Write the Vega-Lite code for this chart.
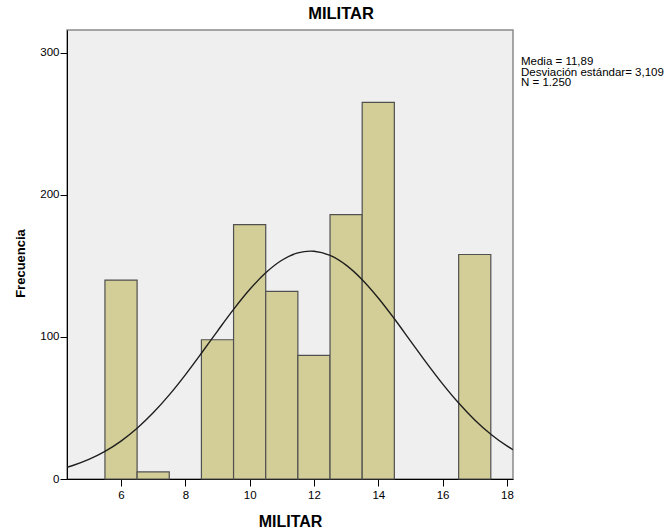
{
  "$schema": "https://vega.github.io/schema/vega-lite/v6.json",
  "width": 446,
  "height": 449,
  "autosize": "none",
  "padding": {"left": 67, "top": 30, "right": 158, "bottom": 52},
  "background": "white",
  "config": {
    "font": "Liberation Sans",
    "view": {"fill": "#efefef", "stroke": "#8a8a8a", "strokeWidth": 1.5},
    "axis": {
      "grid": false,
      "domainColor": "#000000",
      "tickColor": "#000000",
      "tickSize": 7,
      "labelColor": "#000000",
      "labelFont": "Liberation Sans",
      "labelFontSize": 11.5,
      "titleColor": "#000000",
      "titleFont": "Liberation Sans",
      "titleFontWeight": "bold"
    }
  },
  "title": {
    "text": "MILITAR",
    "font": "Liberation Sans",
    "fontSize": 16.5,
    "fontWeight": "bold",
    "color": "#000000",
    "anchor": "middle",
    "dx": 51,
    "offset": 8
  },
  "datasets": {
    "bins": [
      {"bin_start": 5.5, "bin_end": 6.5, "count": 140},
      {"bin_start": 6.5, "bin_end": 7.5, "count": 5},
      {"bin_start": 8.5, "bin_end": 9.5, "count": 98},
      {"bin_start": 9.5, "bin_end": 10.5, "count": 179},
      {"bin_start": 10.5, "bin_end": 11.5, "count": 132},
      {"bin_start": 11.5, "bin_end": 12.5, "count": 87},
      {"bin_start": 12.5, "bin_end": 13.5, "count": 186},
      {"bin_start": 13.5, "bin_end": 14.5, "count": 265},
      {"bin_start": 16.5, "bin_end": 17.5, "count": 158}
    ],
    "curve": [
      {"x": 4.32, "y": 8.28},
      {"x": 4.5, "y": 9.52},
      {"x": 5, "y": 13.77},
      {"x": 5.5, "y": 19.41},
      {"x": 6, "y": 26.65},
      {"x": 6.5, "y": 35.69},
      {"x": 7, "y": 46.56},
      {"x": 7.5, "y": 59.19},
      {"x": 8, "y": 73.33},
      {"x": 8.5, "y": 88.52},
      {"x": 9, "y": 104.13},
      {"x": 9.5, "y": 119.37},
      {"x": 10, "y": 133.34},
      {"x": 10.5, "y": 145.14},
      {"x": 11, "y": 153.96},
      {"x": 11.5, "y": 159.14},
      {"x": 11.89, "y": 160.4},
      {"x": 12, "y": 160.3},
      {"x": 12.5, "y": 157.34},
      {"x": 13, "y": 150.5},
      {"x": 13.5, "y": 140.27},
      {"x": 14, "y": 127.41},
      {"x": 14.5, "y": 112.77},
      {"x": 15, "y": 97.26},
      {"x": 15.5, "y": 81.74},
      {"x": 16, "y": 66.94},
      {"x": 16.5, "y": 53.43},
      {"x": 17, "y": 41.55},
      {"x": 17.5, "y": 31.49},
      {"x": 18, "y": 23.26},
      {"x": 18.19, "y": 20.59}
    ],
    "stats": [
      {"lines": ["Media = 11,89", "Desviación estándar= 3,109", "N = 1.250"]}
    ]
  },
  "layer": [
    {
      "data": {"name": "bins"},
      "mark": {"type": "bar", "fill": "#d3ce97", "stroke": "#505050", "strokeWidth": 1.2},
      "encoding": {
        "x": {
          "field": "bin_start",
          "type": "quantitative",
          "scale": {"domain": [4.32, 18.19], "nice": false, "zero": false},
          "axis": {
            "values": [6, 8, 10, 12, 14, 16, 18],
            "title": "MILITAR",
            "titleFontSize": 16,
            "titleBaseline": "alphabetic",
            "titleY": 47,
            "labelPadding": 3
          }
        },
        "x2": {"field": "bin_end"},
        "y": {
          "field": "count",
          "type": "quantitative",
          "scale": {"domain": [0, 316], "nice": false},
          "axis": {
            "values": [0, 100, 200, 300],
            "title": "Frecuencia",
            "titleFontSize": 13,
            "titleBaseline": "alphabetic",
            "titleX": -42.5,
            "titleY": 233,
            "labelPadding": 1
          }
        },
        "y2": {"datum": 0}
      }
    },
    {
      "data": {"name": "curve"},
      "mark": {"type": "line", "color": "#1e1e1e", "strokeWidth": 1.4, "interpolate": "monotone", "clip": true},
      "encoding": {
        "x": {"field": "x", "type": "quantitative"},
        "y": {"field": "y", "type": "quantitative"}
      }
    },
    {
      "data": {"name": "stats"},
      "mark": {
        "type": "text",
        "align": "left",
        "baseline": "alphabetic",
        "font": "Liberation Sans",
        "fontSize": 11.5,
        "lineHeight": 10.7,
        "color": "#000000",
        "dx": 8,
        "dy": 35
      },
      "encoding": {
        "x": {"datum": 18.19, "type": "quantitative"},
        "y": {"datum": 316, "type": "quantitative"},
        "text": {"field": "lines"}
      }
    }
  ]
}
